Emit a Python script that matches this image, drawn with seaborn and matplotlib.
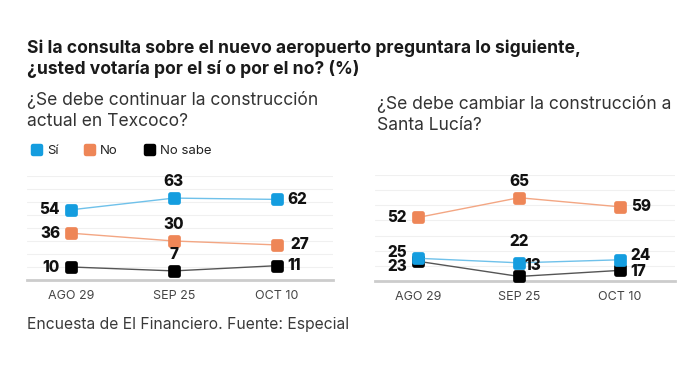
import matplotlib
matplotlib.use("Agg")
import matplotlib.pyplot as plt
from matplotlib.markers import MarkerStyle
from matplotlib.lines import Line2D
import seaborn as sns
import pandas as pd

# datos
fechas = ["AGO 29", "SEP 25", "OCT 10"]
series = ["Sí", "No", "No sabe"]

texcoco_si = [54, 63, 62]
texcoco_no = [36, 30, 27]
texcoco_nosabe = [10, 7, 11]

santa_si = [25, 22, 24]
santa_no = [52, 65, 59]
santa_nosabe = [23, 13, 17]

colores = {"Sí": "#149ddf", "No": "#ee8657", "No sabe": "#000000"}
colores_linea = {"Sí": "#6fc1ea", "No": "#f3a683", "No sabe": "#555555"}

W, H = 696, 382

sns.set_theme(style="white")
plt.rcParams["font.family"] = ["Inter", "DejaVu Sans"]

fig = plt.figure(figsize=(W / 100, H / 100), dpi=100)


def rect(x0, y0, x1, y1):
    # pixeles -> fraccion de figura
    return [x0 / W, 1 - y1 / H, (x1 - x0) / W, (y1 - y0) / H]


def ftext(x, y, s, **kw):
    fig.text(x / W, 1 - y / H, s, **kw)


marca = MarkerStyle("s", joinstyle="round")


def panel(ax, datos, ylim, etiquetas):
    x = list(range(len(fechas)))
    for nombre in ["No sabe", "No", "Sí"]:
        vals = datos[nombre]
        df = pd.DataFrame({"x": x, "valor": vals})
        sns.lineplot(data=df, x="x", y="valor", ax=ax, color=colores_linea[nombre],
                     linewidth=1, marker=marca, markersize=5.8,
                     markerfacecolor=colores[nombre], markeredgecolor=colores[nombre],
                     markeredgewidth=3.4, zorder=3, clip_on=False)
        for i, v in enumerate(vals):
            dx, dy, ha = etiquetas[nombre][i]
            ax.annotate(str(v), (x[i], v), xytext=(dx, dy), textcoords="offset points",
                        ha=ha, va="center", fontsize=11, fontweight="heavy",
                        color="#111111", zorder=5)
    ax.set_xlim(-0.43, 2.55)
    ax.set_ylim(*ylim)
    ax.set_yticks(range(ylim[0], ylim[1] + 1, 10))
    ax.yaxis.grid(True, color="#f0f0f0", linewidth=0.8)
    ax.set_yticklabels([])
    ax.tick_params(axis="y", length=0)
    ax.set_xticks(x, fechas)
    ax.tick_params(axis="x", length=0, pad=7, labelsize=9, labelcolor="#444444")
    ax.set_xlabel("")
    ax.set_ylabel("")
    for lado in ["top", "left", "right"]:
        ax.spines[lado].set_visible(False)
    ax.spines["bottom"].set_color("#cccccc")
    ax.spines["bottom"].set_linewidth(2)


L, R, A = (-8, 0, "right"), (8, 0, "left"), (0, 12, "center")

ax1 = fig.add_axes(rect(27, 176, 333, 280))
panel(ax1, {"Sí": texcoco_si, "No": texcoco_no, "No sabe": texcoco_nosabe}, (0, 80),
      {"Sí": [L, A, R], "No": [L, A, (10, 0, "left")], "No sabe": [L, A, R]})

ax2 = fig.add_axes(rect(375, 175, 675, 281))
panel(ax2, {"Sí": santa_si, "No": santa_no, "No sabe": santa_nosabe}, (10, 80),
      {"Sí": [(-8, 4, "right"), (0, 15, "center"), (8, 3, "left")],
       "No": [L, A, R],
       "No sabe": [(-8, -4, "right"), (4, 8, "left"), (8, -1, "left")]})

# leyenda
handles = [Line2D([], [], linestyle="none", marker=marca, markersize=5.5,
                  markerfacecolor=colores[s], markeredgecolor=colores[s],
                  markeredgewidth=3.2) for s in series]
fig.legend(handles, series, loc="center left", bbox_to_anchor=(20 / W, 1 - 151 / H),
           ncol=3, frameon=False, handlelength=0.8, handletextpad=0.35,
           columnspacing=2.0, fontsize=9.5, labelcolor="#222222")

# textos
ftext(27, 48, "Si la consulta sobre el nuevo aeropuerto preguntara lo siguiente,",
      fontsize=12.6, fontweight="bold", color="#1a1a1a", va="center")
ftext(27, 69, "¿usted votaría por el sí o por el no? (%)",
      fontsize=12.6, fontweight="bold", color="#1a1a1a", va="center")
ftext(27, 100, "¿Se debe continuar la construcción", fontsize=12.6,
      color="#333333", va="center")
ftext(27, 121, "actual en Texcoco?", fontsize=12.6, color="#333333", va="center")
ftext(377, 104, "¿Se debe cambiar la construcción a", fontsize=12.6,
      color="#333333", va="center")
ftext(377, 125, "Santa Lucía?", fontsize=12.6, color="#333333", va="center")
ftext(27, 324, "Encuesta de El Financiero. Fuente: Especial", fontsize=11.3,
      color="#3a3a3a", va="center")

fig.savefig("out.png", dpi=100)
